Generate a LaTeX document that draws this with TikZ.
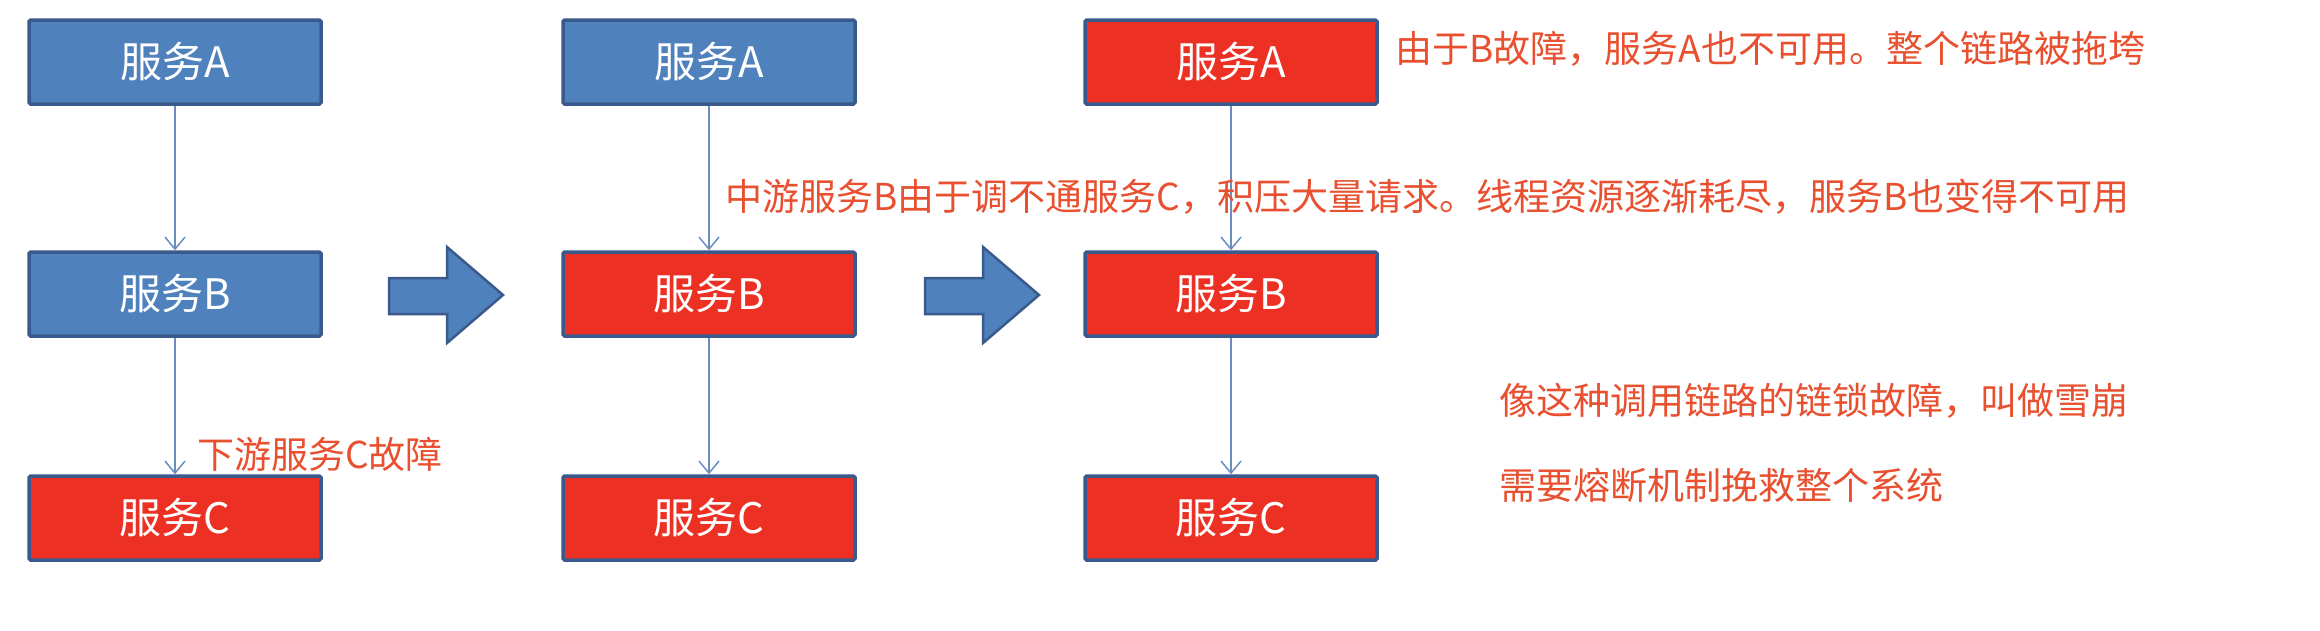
\documentclass[tikz,border=0pt]{standalone}
\usepackage{fontspec}
\setmainfont{Noto Sans CJK SC}
\usetikzlibrary{arrows.meta}
\definecolor{boxblue}{HTML}{4F81BD}
\definecolor{boxred}{HTML}{EC3124}
\definecolor{edgecol}{HTML}{3A5A8C}
\definecolor{linkcol}{HTML}{6A8CC0}
\definecolor{notecol}{HTML}{E8502F}
\begin{document}
\begin{tikzpicture}[x=1pt,y=-1pt,
  svc/.style={draw=edgecol, line width=3.5pt, minimum width=292pt, minimum height=84pt, inner sep=0pt, font=\fontsize{42}{50}\selectfont, text=white, rounded corners=1.5pt},
  okbox/.style={svc, fill=boxblue},
  badbox/.style={svc, fill=boxred},
  link/.style={draw=linkcol, line width=1.5pt, -{Straight Barb[length=12pt,width=20pt]}},
  notetext/.style={text=notecol, font=\fontsize{37}{44}\selectfont, anchor=west, inner sep=0pt},
  bigarrow/.style={fill=boxblue, draw=edgecol, line width=2.5pt}]
\useasboundingbox (0,0) rectangle (2320,630);
\fill[white] (0,0) rectangle (2320,630);
% column 1
\node[okbox]  (a1) at (175,62)  {服务A};
\node[okbox]  (b1) at (175,294) {服务B};
\node[badbox] (c1) at (175,518) {服务C};
% column 2
\node[okbox]  (a2) at (709,62)  {服务A};
\node[badbox] (b2) at (709,294) {服务B};
\node[badbox] (c2) at (709,518) {服务C};
% column 3
\node[badbox] (a3) at (1231,62)  {服务A};
\node[badbox] (b3) at (1231,294) {服务B};
\node[badbox] (c3) at (1231,518) {服务C};
% links
\draw[link] (a1) -- (b1);
\draw[link] (b1) -- (c1);
\draw[link] (a2) -- (b2);
\draw[link] (b2) -- (c2);
\draw[link] (a3) -- (b3);
\draw[link] (b3) -- (c3);
% big arrows
\draw[bigarrow] (389,278) -- (447,278) -- (447,247) -- (503,295) -- (447,343) -- (447,314) -- (389,314) -- cycle;
\draw[bigarrow] (925,278) -- (983,278) -- (983,247) -- (1039,295) -- (983,343) -- (983,314) -- (925,314) -- cycle;
% notes
\node[notetext] (n1) at (197,454) {下游服务C故障};
\node[notetext] (n2) at (725,197) {中游服务B由于调不通服务C，积压大量请求。线程资源逐渐耗尽，服务B也变得不可用};
\node[notetext] (n3) at (1395,49) {由于B故障，服务A也不可用。整个链路被拖垮};
\node[notetext] (n4) at (1499,401) {像这种调用链路的链锁故障，叫做雪崩};
\node[notetext] (n5) at (1499,485) {需要熔断机制挽救整个系统};
\end{tikzpicture}
\end{document}
